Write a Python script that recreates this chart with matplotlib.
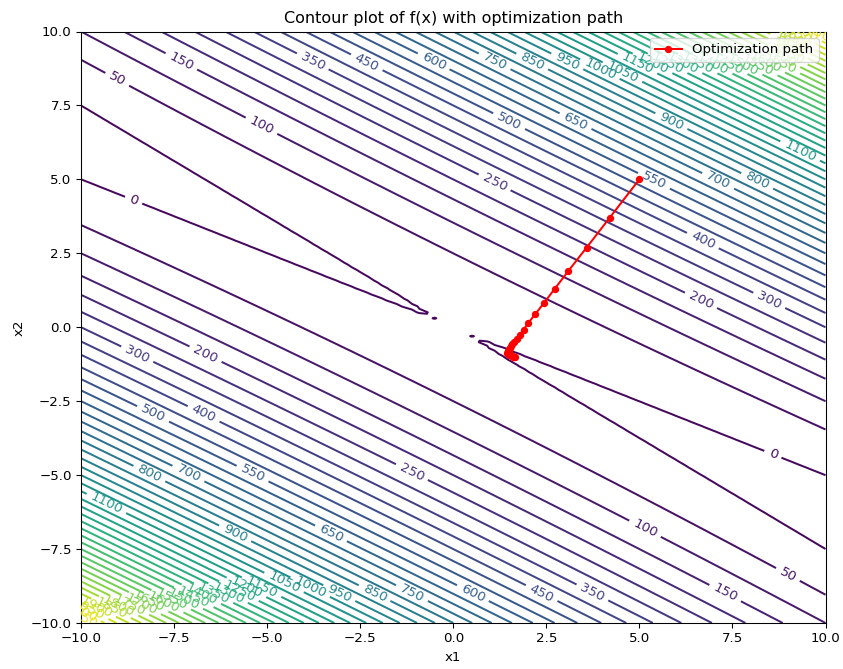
import numpy as np
import matplotlib
matplotlib.use("Agg")
import matplotlib.pyplot as plt

A = np.array([[3.0, 5.0],
              [5.0, 8.0]])
x_range = [-10, 10]
n_grid = 100

# optimization path (x1, x2)
path_x1 = [5.00, 4.20, 3.58, 3.09, 2.72, 2.43, 2.20, 2.02, 1.89, 1.78, 1.70,
           1.64, 1.59, 1.55, 1.53, 1.50, 1.49, 1.48, 1.47, 1.46, 1.46,
           1.45, 1.46, 1.49, 1.51, 1.54, 1.57, 1.60, 1.63, 1.66]
path_x2 = [5.00, 3.70, 2.69, 1.90, 1.29, 0.81, 0.44, 0.15, -0.08, -0.26, -0.39,
           -0.50, -0.58, -0.65, -0.70, -0.74, -0.77, -0.80, -0.82, -0.83, -0.85,
           -0.88, -0.90, -0.92, -0.93, -0.95, -0.97, -0.99, -1.00, -1.02]

# where the contour labels sit in the reference (level -> spots)
label_spots = {
    0: [(-8.54, 4.32), (8.60, -4.27)],
    50: [(-9.03, 8.42), (9.00, -8.32)],
    100: [(-5.14, 6.80), (5.20, -6.80)],
    150: [(-7.28, 8.96), (7.30, -8.94)],
    200: [(6.63, 0.91), (-6.66, -0.95)],
    250: [(1.13, 4.85), (-1.11, -4.89)],
    300: [(8.51, 0.91), (-8.49, -0.95)],
    350: [(-3.79, 8.96), (3.77, -8.94)],
    400: [(6.72, 2.88), (-6.70, -2.92)],
    450: [(-2.36, 8.94), (2.38, -9.00)],
    500: [(1.51, 7.02), (-8.09, -2.92)],
    550: [(5.42, 4.91), (-5.40, -5.02)],
    600: [(-0.53, 8.96), (0.55, -8.94)],
    650: [(3.30, 7.02), (-3.30, -6.97)],
    700: [(7.12, 4.91), (-7.11, -5.02)],
    750: [(1.13, 9.00), (-1.11, -9.00)],
    800: [(8.15, 4.91), (-8.18, -5.02)],
    850: [(2.11, 8.96), (-2.09, -8.94)],
    900: [(5.87, 6.99), (-5.85, -6.97)],
    950: [(3.05, 8.94), (-3.03, -8.89)],
    1000: [(3.95, 8.77), (-3.88, -8.77)],
    1050: [(4.57, 8.63), (-4.56, -8.60)],
    1100: [(9.32, 5.98), (-9.30, -6.07)],
}
# the crowded high levels: a flat row at the top, a slanted row at the bottom
top_row_x2 = 8.9
top_row_max = 1650
top_corner = (9.3, 9.9)
bottom_row = [(-5.0, -8.78), (-9.12, -9.46)]

x1 = np.linspace(x_range[0], x_range[1], n_grid)
x2 = np.linspace(x_range[0], x_range[1], n_grid)
X1, X2 = np.meshgrid(x1, x2)
Z = A[0, 0] * X1**2 + 2 * A[0, 1] * X1 * X2 + A[1, 1] * X2**2

dpi = 96
fig = plt.figure(figsize=(843 / dpi, 669 / dpi), dpi=dpi)
ax = fig.add_axes([81 / 843, 46 / 669, 744.5 / 843, 591.5 / 669])

cs = ax.contour(X1, X2, Z, levels=50, cmap='viridis')

# snap each spot onto its own level's line so the right level gets picked
manual = []
paths = cs.get_paths()
for lev, spots in label_spots.items():
    i = int(np.argmin(np.abs(cs.levels - lev)))
    verts = paths[i].vertices
    for sx, sy in spots:
        d = ((verts[:, 0] - sx) * 37.25) ** 2 + ((verts[:, 1] - sy) * 29.6) ** 2
        manual.append(tuple(verts[np.argmin(d)]))

(bx0, by0), (bx1, by1) = bottom_row
b_slope = (by1 - by0) / (bx1 - bx0)
for i, lev in enumerate(cs.levels):
    verts = paths[i].vertices
    if lev <= 1100 or len(verts) == 0:
        continue
    top = verts[verts[:, 0] > 0]
    if len(top):
        if lev <= top_row_max:
            score = np.abs(top[:, 1] - top_row_x2)
        else:
            score = np.hypot(top[:, 0] - top_corner[0], top[:, 1] - top_corner[1])
        manual.append(tuple(top[np.argmin(score)]))
    bot = verts[verts[:, 0] < 0]
    if len(bot):
        line_y = by0 + (bot[:, 0] - bx0) * b_slope
        manual.append(tuple(bot[np.argmin(np.abs(bot[:, 1] - line_y))]))

ax.clabel(cs, manual=manual, inline=True, fontsize=10)

ax.plot(path_x1, path_x2, 'r-o', markersize=4.5, label='Optimization path')

ax.set_xlim(-10, 10)
ax.set_ylim(-10, 10)
ax.set_xlabel('x1')
ax.set_ylabel('x2')
ax.set_title('Contour plot of f(x) with optimization path')
ax.legend(loc='upper right')

fig.savefig('out.png', dpi=dpi)
